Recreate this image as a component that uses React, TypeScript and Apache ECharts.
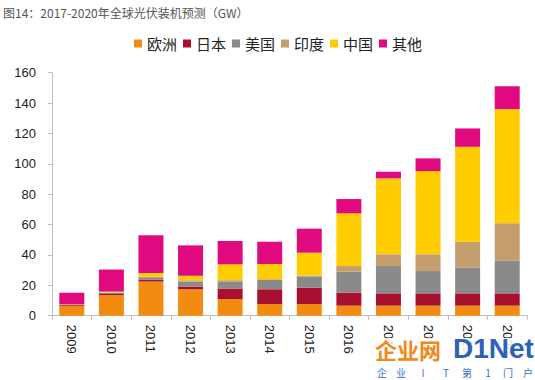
import React, { useEffect, useRef } from "react";
import * as echarts from "echarts";

const categories = ["2009", "2010", "2011", "2012", "2013", "2014", "2015", "2016", "2017", "2018", "2019", "2020"];
const europe = [6.5, 13.5, 22.5, 17.4, 11, 7.7, 7.7, 6.6, 6.6, 6.6, 6.6, 6.6];
const japan = [0.5, 0.8, 1.3, 1.8, 6.9, 9.7, 10.7, 8.6, 8.1, 8.1, 8.1, 8.1];
const usa = [0.3, 0.9, 1.5, 3.3, 4.7, 6.1, 7.5, 13.8, 18, 14.7, 17.1, 21.5];
const india = [0, 0.1, 0.3, 0.8, 0.8, 0.5, 0.5, 3.7, 7.7, 11, 16.9, 24.6];
const china = [0.3, 0.6, 2.5, 3.0, 10.4, 10, 15.1, 34.7, 50, 54.8, 62.5, 75.2];
const others = [7.5, 14.5, 24.8, 20.0, 15.4, 14.7, 15.8, 9.4, 4.4, 8.4, 12.1, 15.1];

const seriesNames = ["欧洲", "日本", "美国", "印度", "中国", "其他"];
const seriesColors = ["#F28C10", "#A8102F", "#8A8A8A", "#C49E6C", "#FFCC00", "#E0097F"];
const seriesData = [europe, japan, usa, india, china, others];

const titleText = "图14：2017-2020年全球光伏装机预测（GW）";
const watermarkChars = ["企", "业", "I", "T", "第", "1", "门", "户"];
const watermarkCharX = [382, 401, 423, 446, 467, 488, 508, 528];

export default function App() {
  const ref = useRef<HTMLDivElement>(null);
  useEffect(() => {
    if (!ref.current) return;
    const chart = echarts.init(ref.current, undefined, { renderer: "svg" });
    chart.setOption({
      animation: false,
      backgroundColor: "#ffffff",
      title: {
        text: titleText,
        left: -2,
        top: 1,
        textStyle: { fontSize: 12, color: "#555555", fontWeight: "normal", fontFamily: "'Noto Sans CJK SC', sans-serif" },
      },
      legend: {
        top: 31,
        left: 129,
        itemWidth: 8,
        itemHeight: 8,
        itemGap: 6,
        icon: "rect",
        textStyle: { fontSize: 15, color: "#222222", fontFamily: "'Noto Sans CJK SC', sans-serif" },
        data: seriesNames,
      },
      grid: { left: 52, right: 8, top: 72.7, bottom: 64.3 },
      xAxis: {
        type: "category",
        data: categories,
        axisLine: { lineStyle: { color: "#BFBFBF" } },
        axisTick: { show: true, length: 4, lineStyle: { color: "#BFBFBF" } },
        axisLabel: {
          rotate: -90,
          margin: 9,
          fontSize: 13,
          color: "#222222",
          fontFamily: "Liberation Sans",
        },
      },
      yAxis: {
        type: "value",
        min: 0,
        max: 160,
        interval: 20,
        splitLine: { show: false },
        axisLine: { show: true, lineStyle: { color: "#BFBFBF" } },
        axisTick: { show: true, length: 4, lineStyle: { color: "#BFBFBF" } },
        axisLabel: { fontSize: 13, color: "#222222", margin: 16, fontFamily: "Liberation Sans" },
      },
      series: seriesNames.map((name, i) => ({
        name,
        type: "bar",
        stack: "total",
        barWidth: 25,
        data: seriesData[i],
        itemStyle: { color: seriesColors[i] },
      })),
      graphic: [
        { type: "rect", shape: { x: 368, y: 338, width: 167, height: 42 }, style: { fill: "rgba(255,255,255,0.85)" }, z: 100 },
        {
          type: "text",
          x: 375,
          y: 349,
          z: 101,
          style: { text: "企业网", fill: "#F08A1C", font: "bold 22px 'Noto Sans CJK SC'", verticalAlign: "middle", align: "left" },
        },
        {
          type: "text",
          x: 453,
          y: 348,
          z: 101,
          style: { text: "D1Net", fill: "#2A63B8", font: "bold 28px 'Liberation Sans'", verticalAlign: "middle", align: "left" },
        },
        ...watermarkChars.map((c, i) => ({
          type: "text",
          x: watermarkCharX[i],
          y: 372,
          z: 101,
          style: { text: c, fill: "#3A73C0", font: "10px 'Noto Sans CJK SC'", verticalAlign: "middle", align: "center" },
        })),
      ],
    });
    return () => chart.dispose();
  }, []);
  return <div ref={ref} style={{ width: 535, height: 380, position: "absolute", left: 0, top: 0 }} />;
}
